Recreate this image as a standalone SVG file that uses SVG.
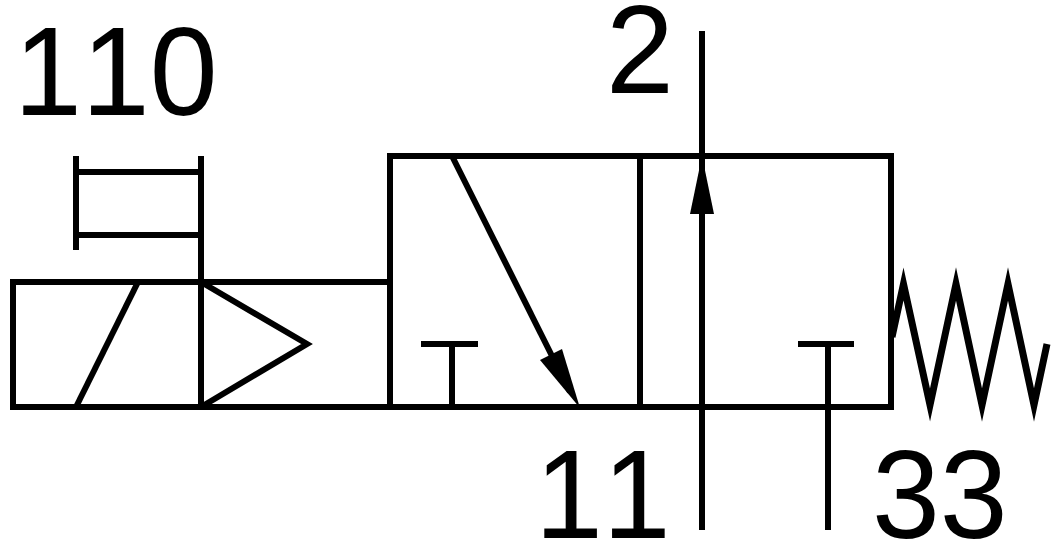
<svg xmlns="http://www.w3.org/2000/svg" width="1056" height="544" viewBox="0 0 1056 544">
<style>
.l{fill:none;stroke:#000;stroke-width:6;stroke-linecap:butt;stroke-linejoin:miter;stroke-miterlimit:20}
.s{stroke-width:7}
.h{fill:#000;stroke:none}
text{font-family:"Liberation Sans",Arial,sans-serif;font-size:122px;fill:#000;font-kerning:none}
</style>
<rect width="1056" height="544" fill="#fff"/>
<g id="valve-body">
<path class="l" d="M390 156H891V407H390Z"/>
<path class="l" d="M640 156V407"/>
</g>
<g id="solenoid">
<path class="l" d="M390 282H13V407H390"/>
<path class="l" d="M138 282L76 407"/>
<path class="l" d="M201 282L307 344L201 407"/>
<path class="l" d="M201 156V407"/>
<path class="l" d="M76 156V250M76 172H201M76 235H201"/>
</g>
<g id="spring">
<path class="l s" d="M892 337L903.5 284L930 405L956 284L982 405L1008 284L1034 405L1047 344"/>
</g>
<g id="connectors">
<path class="l" d="M702 31V530"/>
<path class="h" d="M702 156L714 214H690Z"/>
<path class="l" d="M452 156L570 392"/>
<path class="h" d="M580 408L540 360L562 349Z"/>
<path class="l" d="M452 344V407M421 344H478"/>
<path class="l" d="M828 344V530M798 344H854"/>
</g>
<g id="labels">
<text transform="translate(14 115) scale(1 1.04)">110</text>
<text transform="translate(606 93) scale(1 1.04)">2</text>
<text transform="translate(535 538) scale(1 1.04)">11</text>
<text transform="translate(872 538) scale(1 1.04)">33</text>
</g>
</svg>
